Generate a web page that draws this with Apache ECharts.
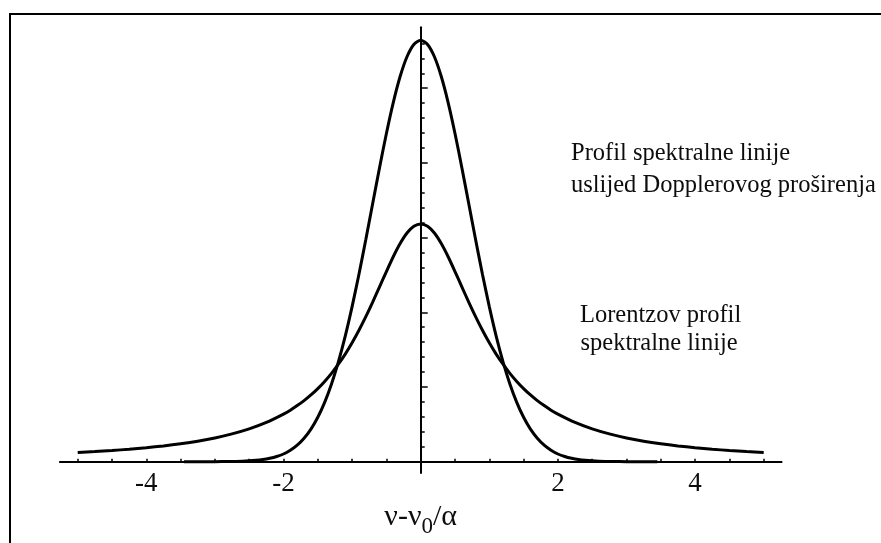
<!DOCTYPE html>
<html>
<head>
<meta charset="utf-8">
<script src="https://cdn.jsdelivr.net/npm/echarts@6/dist/echarts.min.js"></script>
<style>
  html, body { margin: 0; padding: 0; background: #fff; }
  #chart { width: 881px; height: 543px; }
</style>
</head>
<body>
<div id="chart"></div>
<script>
// ---- Data ----
const gaussX = [-3.45, -3.0, -2.8, -2.6, -2.4, -2.3, -2.2, -2.1, -2.0, -1.9, -1.8, -1.7, -1.6, -1.5, -1.4, -1.3, -1.2, -1.1, -1.0, -0.9, -0.8, -0.7, -0.6, -0.5, -0.4, -0.3, -0.2, -0.1, 0,
                0.1, 0.2, 0.3, 0.4, 0.5, 0.6, 0.7, 0.8, 0.9, 1.0, 1.1, 1.2, 1.3, 1.4, 1.5, 1.6, 1.7, 1.8, 1.9, 2.0, 2.1, 2.2, 2.3, 2.4, 2.6, 2.8, 3.0, 3.45];
const gaussY = [0, 0.0001, 0.0002, 0.0007, 0.0018, 0.0028, 0.0045, 0.0069, 0.0103, 0.0153, 0.0221, 0.0314, 0.0436, 0.0595, 0.0795, 0.1041, 0.1337, 0.1682, 0.2076, 0.2510, 0.2975, 0.3456, 0.3936, 0.4394, 0.4808, 0.5156, 0.5421, 0.5586, 0.5642,
                0.5586, 0.5421, 0.5156, 0.4808, 0.4394, 0.3936, 0.3456, 0.2975, 0.2510, 0.2076, 0.1682, 0.1337, 0.1041, 0.0795, 0.0595, 0.0436, 0.0314, 0.0221, 0.0153, 0.0103, 0.0069, 0.0045, 0.0028, 0.0018, 0.0007, 0.0002, 0.0001, 0];

const lorX = [-5, -4.75, -4.5, -4.25, -4, -3.75, -3.5, -3.25, -3, -2.75, -2.5, -2.25, -2, -1.9, -1.8, -1.7, -1.6, -1.5, -1.4, -1.3, -1.2, -1.1, -1, -0.9, -0.8, -0.7, -0.6, -0.5, -0.4, -0.3, -0.2, -0.1, 0,
              0.1, 0.2, 0.3, 0.4, 0.5, 0.6, 0.7, 0.8, 0.9, 1, 1.1, 1.2, 1.3, 1.4, 1.5, 1.6, 1.7, 1.8, 1.9, 2, 2.25, 2.5, 2.75, 3, 3.25, 3.5, 3.75, 4, 4.25, 4.5, 4.75, 5];
const lorY = [0.0122, 0.0135, 0.0150, 0.0167, 0.0187, 0.0211, 0.0240, 0.0275, 0.0318, 0.0372, 0.0439, 0.0525, 0.0637, 0.0690, 0.0751, 0.0818, 0.0894, 0.0979, 0.1075, 0.1183, 0.1305, 0.1440, 0.1592, 0.1759, 0.1941, 0.2136, 0.2341, 0.2546, 0.2744, 0.2920, 0.3061, 0.3152, 0.3183,
              0.3152, 0.3061, 0.2920, 0.2744, 0.2546, 0.2341, 0.2136, 0.1941, 0.1759, 0.1592, 0.1440, 0.1305, 0.1183, 0.1075, 0.0979, 0.0894, 0.0818, 0.0751, 0.0690, 0.0637, 0.0525, 0.0439, 0.0372, 0.0318, 0.0275, 0.0240, 0.0211, 0.0187, 0.0167, 0.0150, 0.0135, 0.0122];

const xTickLabels = [-4, -2, 2, 4];
const xAxisName = ['ν-ν', '0', '/α'];
const dopplerText = ['Profil spektralne linije', 'uslijed Dopplerovog proširenja'];
const lorentzText = ['Lorentzov profil', 'spektralne linije'];

// ---- Layout ----
const W = 881, H = 543;
const X0 = 420.7, PXU = 68.6, Y0 = 461.7, PYU = 747;
function rect(x1, x2, y1, y2) {
  return {
    left: X0 + x1 * PXU, right: W - (X0 + x2 * PXU),
    top: Y0 - y2 * PYU, bottom: H - (Y0 - y1 * PYU),
    containLabel: false, outerBoundsMode: 'none'
  };
}
const FONT = 'Liberation Serif';
const INK = '#0d0d0d';

const chart = echarts.init(document.getElementById('chart'), null, { renderer: 'canvas', width: W, height: H });

const hidden = { axisLine: { show: false }, axisTick: { show: false }, axisLabel: { show: false }, splitLine: { show: false } };

chart.setOption({
  animation: false,
  backgroundColor: '#fff',
  grid: [rect(-5.26, 5.26, -0.0151, 0.5815), rect(-5, 5, 0, 0.56), rect(-5, 5, 0, 0.5)],
  xAxis: [
    { gridIndex: 0, type: 'value', min: -5.26, max: 5.26,
      axisLine: { show: true, onZero: true, lineStyle: { color: '#000', width: 2 } },
      axisTick: { show: false }, axisLabel: { show: false }, splitLine: { show: false } },
    { gridIndex: 1, type: 'value', min: -5, max: 5, interval: 0.5,
      axisLine: { show: false, onZero: true },
      axisTick: { show: true, inside: true, length: 3, lineStyle: { color: '#000', width: 1.5 } },
      axisLabel: { show: true, margin: 9, fontSize: 27, fontFamily: FONT, color: INK,
        formatter: v => (xTickLabels.indexOf(Math.round(v * 100) / 100) >= 0 ? String(Math.round(v)) : '') },
      splitLine: { show: false },
      name: '{a|' + xAxisName[0] + '}{s|' + xAxisName[1] + '}{a|' + xAxisName[2] + '}',
      nameLocation: 'middle', nameGap: 28,
      nameTextStyle: { color: INK, fontFamily: FONT,
        rich: {
          a: { fontSize: 30, fontFamily: FONT, color: INK, lineHeight: 36, verticalAlign: 'top' },
          s: { fontSize: 23, fontFamily: FONT, color: INK, lineHeight: 36, verticalAlign: 'bottom' }
        } } },
    Object.assign({ gridIndex: 2, type: 'value', min: -5, max: 5 }, hidden)
  ],
  yAxis: [
    { gridIndex: 0, type: 'value', min: -0.0151, max: 0.5815,
      axisLine: { show: true, onZero: true, lineStyle: { color: '#000', width: 2 } },
      axisTick: { show: false }, axisLabel: { show: false }, splitLine: { show: false } },
    { gridIndex: 1, type: 'value', min: 0, max: 0.56, interval: 0.02,
      axisLine: { show: false, onZero: true },
      axisTick: { show: true, inside: true, length: 4, lineStyle: { color: '#000', width: 1.5 } },
      axisLabel: { show: false }, splitLine: { show: false } },
    { gridIndex: 2, type: 'value', min: 0, max: 0.5, interval: 0.1,
      axisLine: { show: false, onZero: true },
      axisTick: { show: true, inside: true, length: 7, lineStyle: { color: '#000', width: 1.5 } },
      axisLabel: { show: false }, splitLine: { show: false } }
  ],
  series: [
    { type: 'line', xAxisIndex: 0, yAxisIndex: 0, data: gaussX.map((x, i) => [x, gaussY[i]]),
      showSymbol: false, smooth: 0.25, clip: false, z: 5,
      lineStyle: { color: '#000', width: 3 } },
    { type: 'line', xAxisIndex: 0, yAxisIndex: 0, data: lorX.map((x, i) => [x, lorY[i]]),
      showSymbol: false, smooth: 0.25, clip: false, z: 5,
      lineStyle: { color: '#000', width: 3 } }
  ],
  graphic: [
    { type: 'rect', silent: true, shape: { x: 10, y: 14, width: 900, height: 600 },
      style: { fill: 'none', stroke: '#000', lineWidth: 2 } },
    { type: 'text', x: 571, y: 154, style: { text: dopplerText[0], fontSize: 24.5, fontFamily: FONT, fill: INK, verticalAlign: 'middle' } },
    { type: 'text', x: 571, y: 185.5, style: { text: dopplerText[1], fontSize: 24.5, fontFamily: FONT, fill: INK, verticalAlign: 'middle' } },
    { type: 'text', x: 580, y: 315.5, style: { text: lorentzText[0], fontSize: 24.5, fontFamily: FONT, fill: INK, verticalAlign: 'middle' } },
    { type: 'text', x: 580.5, y: 344, style: { text: lorentzText[1], fontSize: 24.5, fontFamily: FONT, fill: INK, verticalAlign: 'middle' } }
  ]
});
</script>
</body>
</html>
